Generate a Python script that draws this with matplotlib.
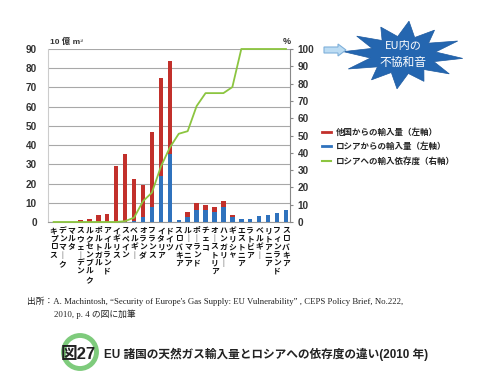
import numpy as np
import matplotlib
matplotlib.use('Agg')
import matplotlib.pyplot as plt
from matplotlib.patches import Polygon, Circle, FancyArrow
from matplotlib.lines import Line2D

plt.rcParams['font.family'] = ['Liberation Sans', 'Noto Sans CJK JP', 'DejaVu Sans']

# --- data (10億m3 / %) ---
countries = ['キプロス', 'デンマーク', 'マルタ', 'スウェーデン', 'ルクセンブルク', 'ポルトガル',
             'アイルランド', 'イギリス', 'スペイン', 'ベルギー', 'オランダ', 'フランス', 'イタリア',
             'ドイツ', 'スロバキア', 'ルーマニア', 'ポーランド', 'チェコ', 'オーストリア', 'ハンガリー',
             'ギリシャ', 'エストニア', 'ラトビア', 'ベルギー', 'リトアニア', 'フィンランド', 'スロバキア']
total = [0, 0, 0, 1.0, 1.5, 3.8, 4.3, 29.2, 35.4, 22.6, 19.0, 46.8, 74.8, 83.9,
         1.2, 5.2, 9.7, 8.8, 7.6, 10.7, 3.8, 1.4, 1.6, 2.9, 3.4, 4.5, 6.0]
russia = [0, 0, 0, 0, 0, 0, 0, 0, 0, 0.6, 2.6, 7.8, 23.8, 35.6,
          0.8, 2.4, 6.4, 6.0, 5.3, 7.8, 2.6, 1.4, 1.6, 2.9, 3.4, 4.5, 6.0]
dependency = [0, 0, 0, 0, 0, 0, 0, 0, 0.5, 2.5, 12, 17, 32, 43,
              51, 52.5, 67, 74.5, 74.5, 74.5, 78, 100, 100, 100, 100, 100, 100]

other = [t - r for t, r in zip(total, russia)]
x = np.arange(len(countries))

W, H = 483, 386
fig = plt.figure(figsize=(W / 100, H / 100), dpi=100)
fig.patch.set_facecolor('white')

def fx(px):
    return px / W

def fy(py):
    return 1 - py / H

ax = fig.add_axes([fx(48), fy(222), fx(290) - fx(48), fy(49) - fy(222)])
ax.bar(x, russia, width=0.5, color='#2f72bd', zorder=3)
ax.bar(x, other, width=0.5, bottom=russia, color='#c2302b', zorder=3)
ax.set_xlim(-0.63, 26.45)
ax.set_ylim(0, 90)
ax.set_yticks(range(0, 91, 10))
ax.yaxis.grid(True, color='#a8a8a8', lw=0.8, zorder=0)
ax.tick_params(axis='y', length=0, labelsize=7.2, labelcolor='#333333', pad=8)
for lab in ax.get_yticklabels():
    lab.set_fontweight('bold')
ax.set_xticks(x)
ax.set_xticklabels(['\n'.join(c.replace('ー', '｜')) for c in countries],
                   family='Noto Sans CJK JP', fontweight='bold', fontsize=5.6,
                   linespacing=0.88, va='top', color='#111111')
ax.tick_params(axis='x', length=0, pad=3)
for s in ['top', 'right']:
    ax.spines[s].set_visible(False)
ax.spines['left'].set_color('#cccccc')
ax.spines['bottom'].set_color('#999999')

ax2 = ax.twinx()
ax2.plot(x, dependency, color='#8cc540', lw=1.3, zorder=4, clip_on=False)
ax2.set_ylim(0, 100)
ax2.set_yticks(range(0, 101, 10))
ax2.tick_params(axis='y', length=2.5, color='#888888', labelsize=7.2, labelcolor='#333333', pad=3)
for lab in ax2.get_yticklabels():
    lab.set_fontweight('bold')
for s in ['top', 'left', 'bottom']:
    ax2.spines[s].set_visible(False)
ax2.spines['right'].set_color('#888888')

fig.text(fx(50), fy(42), '10 億 m³', fontsize=6, fontweight='bold', color='#333333', va='center')
fig.text(fx(283), fy(42), '%', fontsize=6.5, fontweight='bold', color='#333333', va='center')

handles = [Line2D([], [], color='#c2302b', lw=2),
           Line2D([], [], color='#2f72bd', lw=2),
           Line2D([], [], color='#8cc540', lw=1.5)]
labels = ['他国からの輸入量（左軸）', 'ロシアからの輸入量（左軸）', 'ロシアへの輸入依存度（右軸）']
fig.legend(handles, labels, loc='upper left', bbox_to_anchor=(fx(314), fy(120)),
           frameon=False, prop={'family': 'Noto Sans CJK JP', 'weight': 'bold', 'size': 6.1},
           handlelength=1.1, handletextpad=0.6, labelspacing=0.65, labelcolor='#222222')

# overlay in pixel coordinates for decorations
ov = fig.add_axes([0, 0, 1, 1], zorder=10)
ov.set_xlim(0, W)
ov.set_ylim(H, 0)
ov.axis('off')
ov.patch.set_alpha(0)

# starburst
ang = np.linspace(0, 2 * np.pi, 25)[:-1] + 0.1
rad = np.where(np.arange(24) % 2 == 0, 1.0, 0.55)
rad = rad * np.array([1, 1, 0.95, 1, 0.85, 1, 1, 1, 0.9, 1, 1, 1,
                      1, 1, 0.95, 1, 0.9, 1, 1, 1, 0.9, 1, 1, 1])
sx = 403 + 60 * rad * np.cos(ang)
sy = 55 + 34 * rad * np.sin(ang)
ov.add_patch(Polygon(np.column_stack([sx, sy]), closed=True, facecolor='#2466b0',
                     edgecolor='#1d5aa0', lw=0.5))
ov.text(403, 46, 'EU内の', ha='center', va='center', color='white',
        fontsize=8, family=['Noto Sans CJK JP'])
ov.text(403, 62, '不協和音', ha='center', va='center', color='white', fontsize=8.5,
        family=['Noto Sans CJK JP'])
ov.add_patch(FancyArrow(324, 50, 14, 0, width=6, head_width=12, head_length=8,
                        facecolor='#bcdcf3', edgecolor='#7fb0da', lw=0.8,
                        length_includes_head=False))

# source note
src_font = ['Liberation Serif', 'Noto Sans CJK JP']
fig.text(fx(27), fy(301), '出所：A. Machintosh, “Security of Europe\'s Gas Supply: EU Vulnerability” , CEPS Policy Brief, No.222,',
         fontsize=6.3, family=src_font, va='center', color='#222222')
fig.text(fx(54), fy(314), '2010, p. 4 の図に加筆', fontsize=6.3, family=src_font, va='center', color='#222222')

# title
ov.add_patch(Circle((80, 352), 16.5, facecolor='none', edgecolor='#7ecb7c', lw=3.5))
ov.text(61, 354, '図27', fontsize=12, fontweight='bold', color='#222222', va='center',
        family=['Liberation Sans', 'Noto Sans CJK JP'])
ov.text(104, 354, 'EU 諸国の天然ガス輸入量とロシアへの依存度の違い(2010 年)', fontsize=8.4,
        fontweight='bold', color='#222222', va='center', family=['Liberation Sans', 'Noto Sans CJK JP'])

fig.savefig('out.png', dpi=100, facecolor='white')
